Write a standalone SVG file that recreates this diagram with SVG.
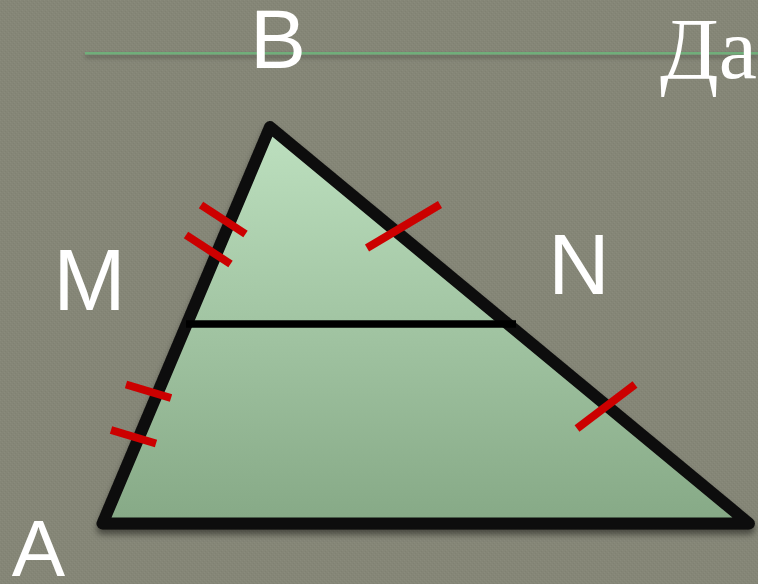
<svg xmlns="http://www.w3.org/2000/svg" width="758" height="584" viewBox="0 0 758 584">
  <defs>
    <linearGradient id="fillGrad" gradientUnits="userSpaceOnUse" x1="0" y1="127" x2="0" y2="524">
      <stop offset="0" stop-color="#bde0bf"/>
      <stop offset="1" stop-color="#86a986"/>
    </linearGradient>
    <pattern id="tex" width="4" height="4" patternUnits="userSpaceOnUse">
      <rect width="4" height="4" fill="#858677"/>
      <rect x="0" y="0" width="1" height="1" fill="#8a8b7c"/>
      <rect x="2" y="2" width="1" height="1" fill="#8a8b7c"/>
      <rect x="1" y="3" width="1" height="1" fill="#808172"/>
      <rect x="3" y="1" width="1" height="1" fill="#808172"/>
    </pattern>
    <filter id="shadow" x="-10%" y="-10%" width="120%" height="130%">
      <feDropShadow dx="0" dy="5" stdDeviation="3" flood-color="#000" flood-opacity="0.45"/>
    </filter>
    <filter id="lineShadow" filterUnits="userSpaceOnUse" x="70" y="40" width="700" height="30">
      <feDropShadow dx="0" dy="3" stdDeviation="2" flood-color="#000" flood-opacity="0.35"/>
    </filter>
  </defs>
  <style>
    .lbl { font-family: "Liberation Sans", Arial, sans-serif; fill: #ffffff; text-anchor: middle; }
    .tick { stroke: #cc0000; stroke-width: 8; stroke-linecap: butt; fill: none; }
    .edge { stroke: #0d0d0d; stroke-width: 12; stroke-linejoin: round; }
  </style>

  <rect width="758" height="584" fill="url(#tex)"/>

  <g id="title-rule">
    <rect x="85" y="52" width="673" height="2.5" fill="#6fae7a" filter="url(#lineShadow)"/>
  </g>

  <g id="triangle">
    <polygon class="edge" points="270,127 102.5,523.5 749,523.5" fill="url(#fillGrad)" filter="url(#shadow)"/>
  </g>

  <g id="connectors">
    <line id="midline" x1="186" y1="324" x2="516" y2="324" stroke="#000" stroke-width="7.5"/>
  </g>

  <g id="ticks">
    <line class="tick" x1="201" y1="205" x2="245.5" y2="234"/>
    <line class="tick" x1="186" y1="235" x2="230.5" y2="264"/>
    <line class="tick" x1="126" y1="384.5" x2="171" y2="398"/>
    <line class="tick" x1="111" y1="430" x2="156" y2="443.5"/>
    <line class="tick" x1="367" y1="248" x2="440" y2="204.5"/>
    <line class="tick" x1="577" y1="428.5" x2="635" y2="384.5"/>
  </g>

  <g id="label-B"><text class="lbl" x="278" y="68" font-size="84">B</text></g>
  <g id="label-M"><text class="lbl" x="89.5" y="310" font-size="87">M</text></g>
  <g id="label-N"><text class="lbl" x="579" y="294" font-size="85">N</text></g>
  <g id="label-A"><text class="lbl" x="38.5" y="576" font-size="80">A</text></g>
  <g id="title"><text x="660" y="78" font-family="'Liberation Serif', 'Times New Roman', serif" font-size="86" fill="#ffffff">Да</text></g>
</svg>
